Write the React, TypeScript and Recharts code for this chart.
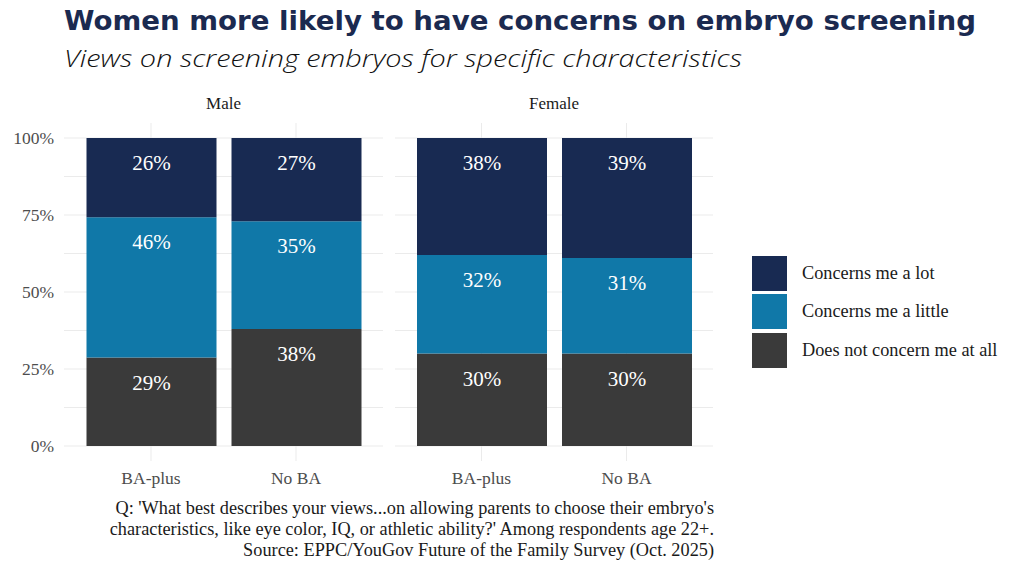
import React from 'react';
import { BarChart, Bar, XAxis, YAxis, CartesianGrid, LabelList } from 'recharts';

// survey shares (%), rows of each facet; bars are normalised to 100% by the stack
const education = ['BA-plus', 'No BA'];
const maleNotAtAll = [29, 38];
const maleLittle = [46, 35];
const maleLot = [26, 27];
const femaleNotAtAll = [30, 30];
const femaleLittle = [32, 31];
const femaleLot = [38, 39];

const yTicks = [0, 0.25, 0.5, 0.75, 1];
const gridValues = [0, 0.125, 0.25, 0.375, 0.5, 0.625, 0.75, 0.875, 1];

const series = [
  { key: 'notAtAll', label: 'Does not concern me at all', color: '#3a3a3a' },
  { key: 'little', label: 'Concerns me a little', color: '#1078a8' },
  { key: 'lot', label: 'Concerns me a lot', color: '#182a52' },
];

const SERIF = '"Liberation Serif", "DejaVu Serif", serif';
const GRID = '#ebebeb';
// ggplot-style panel expansion: grid extends this far past the 0..100% range
const EXPAND = 15;

function buildRows(notAtAll: number[], little: number[], lot: number[]) {
  return education.map((edu, i) => ({
    edu,
    notAtAll: notAtAll[i],
    little: little[i],
    lot: lot[i],
  }));
}

const maleRows = buildRows(maleNotAtAll, maleLittle, maleLot);
const femaleRows = buildRows(femaleNotAtAll, femaleLittle, femaleLot);

function SegmentLabel(props: any) {
  const { x, y, width, value } = props;
  return (
    <text
      x={x + width / 2}
      y={y + 25}
      fill="#ffffff"
      fontFamily={SERIF}
      fontSize={21}
      textAnchor="middle"
      dominantBaseline="central"
    >
      {value}%
    </text>
  );
}

// horizontal grid lines run the whole panel width, including the expansion
function HLine(props: any) {
  const { x1, x2, y1 } = props;
  return <line x1={x1} x2={x2} y1={y1} y2={y1} stroke={GRID} strokeWidth={1} />;
}

// vertical lines only at bar centres, stretched into the expansion area
function VLine(props: any) {
  const { x1, y1, y2, x, width } = props;
  if (Math.abs(x1 - x) < 2 || Math.abs(x1 - (x + width)) < 2) return <g />;
  return (
    <line x1={x1} x2={x1} y1={y1 - EXPAND} y2={y2 + EXPAND} stroke={GRID} strokeWidth={1} />
  );
}

function Panel({
  rows,
  width,
  padding,
  showY,
}: {
  rows: ReturnType<typeof buildRows>;
  width: number;
  padding: number;
  showY: boolean;
}) {
  return (
    <BarChart
      width={width}
      height={500}
      data={rows}
      stackOffset="expand"
      margin={{ top: 138, right: 0, left: 0, bottom: 4 }}
    >
      <CartesianGrid horizontalValues={gridValues} horizontal={HLine} vertical={VLine} />
      <XAxis
        dataKey="edu"
        height={50}
        padding={{ left: padding, right: padding }}
        axisLine={false}
        tickLine={false}
        tickMargin={20}
        tick={{ fill: '#4d4d4d', fontSize: 17.5, fontFamily: SERIF }}
      />
      <YAxis
        hide={!showY}
        width={64}
        type="number"
        domain={[0, 1]}
        ticks={yTicks}
        axisLine={false}
        tickLine={false}
        tickMargin={4}
        tickFormatter={(v: number) => `${Math.round(v * 100)}%`}
        tick={{ fill: '#4d4d4d', fontSize: 17.5, fontFamily: SERIF }}
      />
      {series.map((s) => (
        <Bar
          key={s.key}
          dataKey={s.key}
          stackId="a"
          fill={s.color}
          barSize={130}
          isAnimationActive={false}
        >
          <LabelList dataKey={s.key} content={<SegmentLabel />} />
        </Bar>
      ))}
    </BarChart>
  );
}

export default function App() {
  const legendItems = [...series].reverse();
  return (
    <div
      style={{
        position: 'absolute',
        left: 0,
        top: 0,
        width: 1024,
        height: 576,
        background: '#ffffff',
        overflow: 'hidden',
      }}
    >
      <svg width={1024} height={80} style={{ position: 'absolute', left: 0, top: 0 }}>
        <text
          x={64}
          y={30}
          fontFamily='"DejaVu Sans", "Open Sans", sans-serif'
          fontWeight={700}
          fontSize={26}
          fill="#1b2a50"
          textLength={912}
          lengthAdjust="spacingAndGlyphs"
        >
          Women more likely to have concerns on embryo screening
        </text>
        <text
          x={64}
          y={67}
          fontFamily='"Open Sans", "Noto Sans", sans-serif'
          fontStyle="italic"
          fontWeight={300}
          fontSize={23}
          fill="#111111"
          textLength={678}
          lengthAdjust="spacingAndGlyphs"
        >
          Views on screening embryos for specific characteristics
        </text>
      </svg>

      <div
        style={{
          position: 'absolute',
          left: 64,
          width: 319,
          top: 94,
          textAlign: 'center',
          fontFamily: SERIF,
          fontSize: 17,
          color: '#1a1a1a',
        }}
      >
        Male
      </div>
      <div
        style={{
          position: 'absolute',
          left: 395,
          width: 318,
          top: 94,
          textAlign: 'center',
          fontFamily: SERIF,
          fontSize: 17,
          color: '#1a1a1a',
        }}
      >
        Female
      </div>

      <div style={{ position: 'absolute', left: 0, top: 0 }}>
        <Panel rows={maleRows} width={383} padding={14.5} showY />
      </div>
      <div style={{ position: 'absolute', left: 395, top: 0 }}>
        <Panel rows={femaleRows} width={318} padding={14} showY={false} />
      </div>

      <div style={{ position: 'absolute', left: 752, top: 254 }}>
        {legendItems.map((s) => (
          <div
            key={s.key}
            style={{ display: 'flex', alignItems: 'center', height: 38.5 }}
          >
            <div style={{ width: 35, height: 35, background: s.color }} />
            <div
              style={{
                marginLeft: 15,
                fontFamily: SERIF,
                fontSize: 18.3,
                color: '#1a1a1a',
                whiteSpace: 'nowrap',
              }}
            >
              {s.label}
            </div>
          </div>
        ))}
      </div>

      <div
        style={{
          position: 'absolute',
          right: 1024 - 714,
          top: 498,
          textAlign: 'right',
          fontFamily: SERIF,
          fontSize: 18.3,
          lineHeight: '21px',
          color: '#1a1a1a',
          whiteSpace: 'nowrap',
        }}
      >
        Q: 'What best describes your views...on allowing parents to choose their embryo's
        <br />
        characteristics, like eye color, IQ, or athletic ability?' Among respondents age 22+.
        <br />
        Source: EPPC/YouGov Future of the Family Survey (Oct. 2025)
      </div>
    </div>
  );
}
